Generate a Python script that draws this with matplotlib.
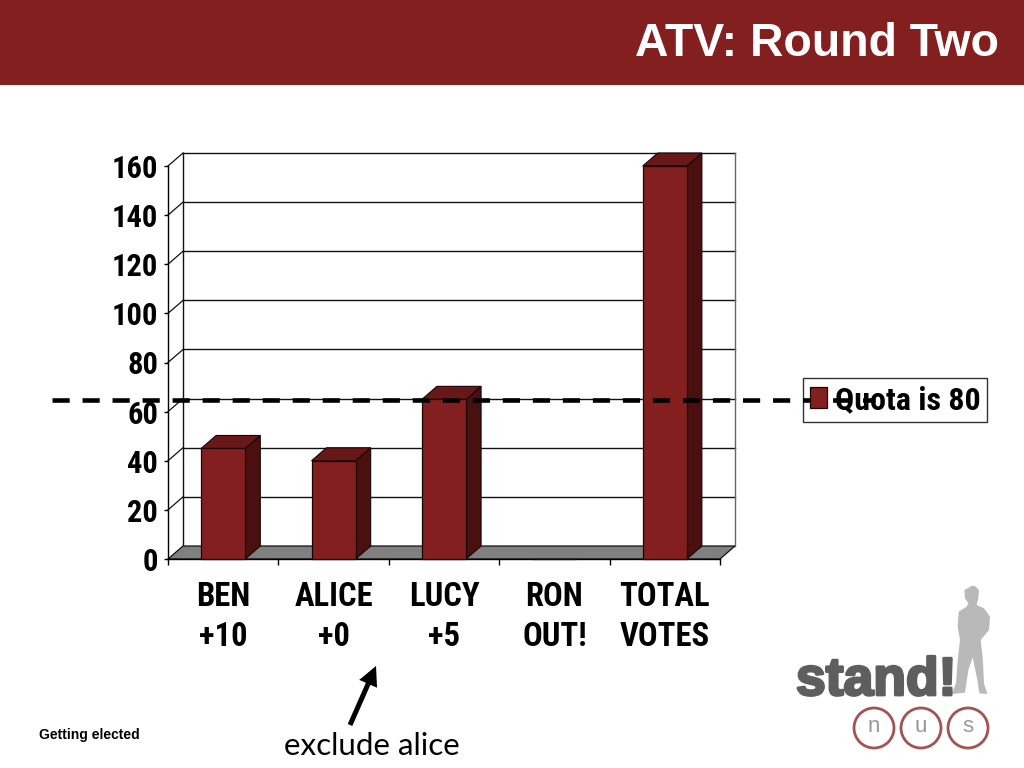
#!/usr/bin/env python3
import numpy as np
import matplotlib
matplotlib.use("Agg")
import matplotlib.pyplot as plt
from matplotlib.patches import Polygon, Rectangle, Circle, FancyArrowPatch
from matplotlib import patheffects as pe

# chart data
categories = ["BEN\n+10", "ALICE\n+0", "LUCY\n+5", "RON\nOUT!", "TOTAL\nVOTES"]
votes = [45, 40, 65, 0, 160]
y_ticks = [0, 20, 40, 60, 80, 100, 120, 140, 160]
legend_label = "Quota is 80"

RED = "#841f1f"
RED_SIDE = "#4a0f0f"
RED_TOP = "#691818"
NARROW = ["Roboto Condensed", "Liberation Sans"]

# 3d look: depth of the chart in data units
DX = 15 / 110.4
DY = 13 / 2.456
W = 0.40

fig = plt.figure(figsize=(10.24, 7.68), dpi=100)
fig.patch.set_facecolor("white")


def frac(x0, y0, x1, y1):
    # pixel box (top left origin) to figure fractions
    return [x0 / 1024, 1 - y1 / 768, (x1 - x0) / 1024, (y1 - y0) / 768]


# front plane of the chart
ax = fig.add_axes(frac(168, 166, 720, 559))
ax.set_xlim(0, 5)
ax.set_ylim(0, 160)
ax.patch.set_visible(False)
for s in ["top", "right"]:
    ax.spines[s].set_visible(False)
for s in ["left", "bottom"]:
    ax.spines[s].set_linewidth(1.0)

# back wall, side wall and floor
for t in y_ticks[1:]:
    ax.plot([DX, 5 + DX], [t + DY, t + DY], color="#111111", lw=1.0, clip_on=False, zorder=1)
    ax.plot([0, DX], [t, t + DY], color="#111111", lw=0.9, clip_on=False, zorder=1)
ax.plot([DX, DX], [DY, 160 + DY], color="#111111", lw=1.0, clip_on=False, zorder=1)
ax.plot([5 + DX, 5 + DX], [DY, 160 + DY], color="#666666", lw=1.0, clip_on=False, zorder=1)
ax.add_patch(Polygon([(0, 0), (5, 0), (5 + DX, DY), (DX, DY)], closed=True, facecolor="#808080",
                     edgecolor="#111111", lw=0.9, clip_on=False, zorder=2))

positions = np.arange(len(votes)) + 0.5
bars = ax.bar(positions, votes, width=W, color=RED, edgecolor="#1a0505", linewidth=0.9,
              zorder=4, clip_on=False, label=legend_label)
for p, v in zip(positions, votes):
    if v == 0:
        continue
    l, r = p - W / 2, p + W / 2
    ax.add_patch(Polygon([(r, 0), (r + DX, DY), (r + DX, v + DY), (r, v)], closed=True,
                         facecolor=RED_SIDE, edgecolor="#1a0505", lw=0.8, clip_on=False, zorder=3))
    ax.add_patch(Polygon([(l, v), (r, v), (r + DX, v + DY), (l + DX, v + DY)], closed=True,
                         facecolor=RED_TOP, edgecolor="#1a0505", lw=0.8, clip_on=False, zorder=3))

ax.set_yticks(y_ticks)
ax.set_yticklabels([str(t) for t in y_ticks], fontfamily=NARROW, fontweight="bold", fontsize=22)
ax.tick_params(axis="y", length=3, width=1, pad=4)
ax.set_xticks(range(6))
ax.set_xticklabels([])
ax.tick_params(axis="x", which="major", length=4, width=1)
ax.set_xticks(positions, minor=True)
ax.set_xticklabels(categories, minor=True, fontfamily=NARROW, fontweight="bold", fontsize=23.5,
                   linespacing=1.33)
ax.tick_params(axis="x", which="minor", length=0, pad=15.5)

# slide layer in pixel coordinates
slide = fig.add_axes([0, 0, 1, 1], zorder=5)
slide.set_xlim(0, 1024)
slide.set_ylim(768, 0)
slide.axis("off")
slide.patch.set_visible(False)

slide.add_patch(Rectangle((0, 0), 1024, 85, facecolor=RED, edgecolor="none"))
slide.text(999, 44, "ATV: Round Two", color="white", fontfamily="Liberation Sans",
           fontweight="bold", fontsize=33.4, ha="right", va="center")
slide.text(39, 734.5, "Getting elected", color="black", fontfamily="Liberation Sans",
           fontweight="bold", fontsize=10, ha="left", va="center")

# quota line
slide.plot([52, 875], [400, 400], color="black", lw=3.3, dashes=(3.75, 2.8),
           dash_capstyle="butt", zorder=2)

leg = slide.legend(handles=[bars[0]], labels=[legend_label], loc="center", bbox_to_anchor=(895, 400),
                   bbox_transform=slide.transData, frameon=True, fancybox=False, facecolor="none",
                   framealpha=None, edgecolor="black", handlelength=0.53, handleheight=0.65,
                   handletextpad=0.25, borderpad=0.22, borderaxespad=0,
                   prop={"family": NARROW, "weight": "bold", "size": 23})
leg.get_frame().set_linewidth(1.0)
leg.set_zorder(3)

# arrow and note
slide.add_patch(FancyArrowPatch((350, 725), (376, 666),
                                arrowstyle="simple,tail_width=3.6,head_width=14,head_length=14",
                                mutation_scale=1, facecolor="black", edgecolor="none",
                                shrinkA=0, shrinkB=0))
slide.text(372, 746, "exclude alice", color="black", fontfamily="Lato", fontsize=22.6,
           ha="center", va="center")

# logo
person_x = np.array([575, 553, 555, 565, 560, 536, 533, 540, 533, 528, 515, 555, 565, 578, 592,
                     598, 622, 612, 608, 602, 627, 630, 612, 590, 595, 597, 585])
person_y = np.array([48, 60, 85, 100, 110, 125, 170, 210, 270, 340, 372, 368, 300, 262, 330,
                     370, 372, 340, 260, 210, 180, 140, 115, 105, 85, 60, 48])
slide.add_patch(Polygon(np.column_stack([780 + person_x / 3, 570 + person_y / 3]), closed=True,
                        facecolor="#b9b9b9", edgecolor="none"))
slide.text(796, 695, "stand!", color="#5e5e5e", fontfamily="Liberation Sans", fontweight="bold",
           fontsize=38.5, ha="left", va="baseline",
           path_effects=[pe.withStroke(linewidth=2, foreground="#5e5e5e")])
for cx, letter in zip([874, 921, 968], "nus"):
    slide.add_patch(Circle((cx, 728), 20, facecolor="white", edgecolor="#a25352", lw=2))
    slide.text(cx, 727, letter, color="#999999", fontfamily="Liberation Sans", fontsize=16,
               ha="center", va="center")

fig.savefig("out.png", dpi=100)
